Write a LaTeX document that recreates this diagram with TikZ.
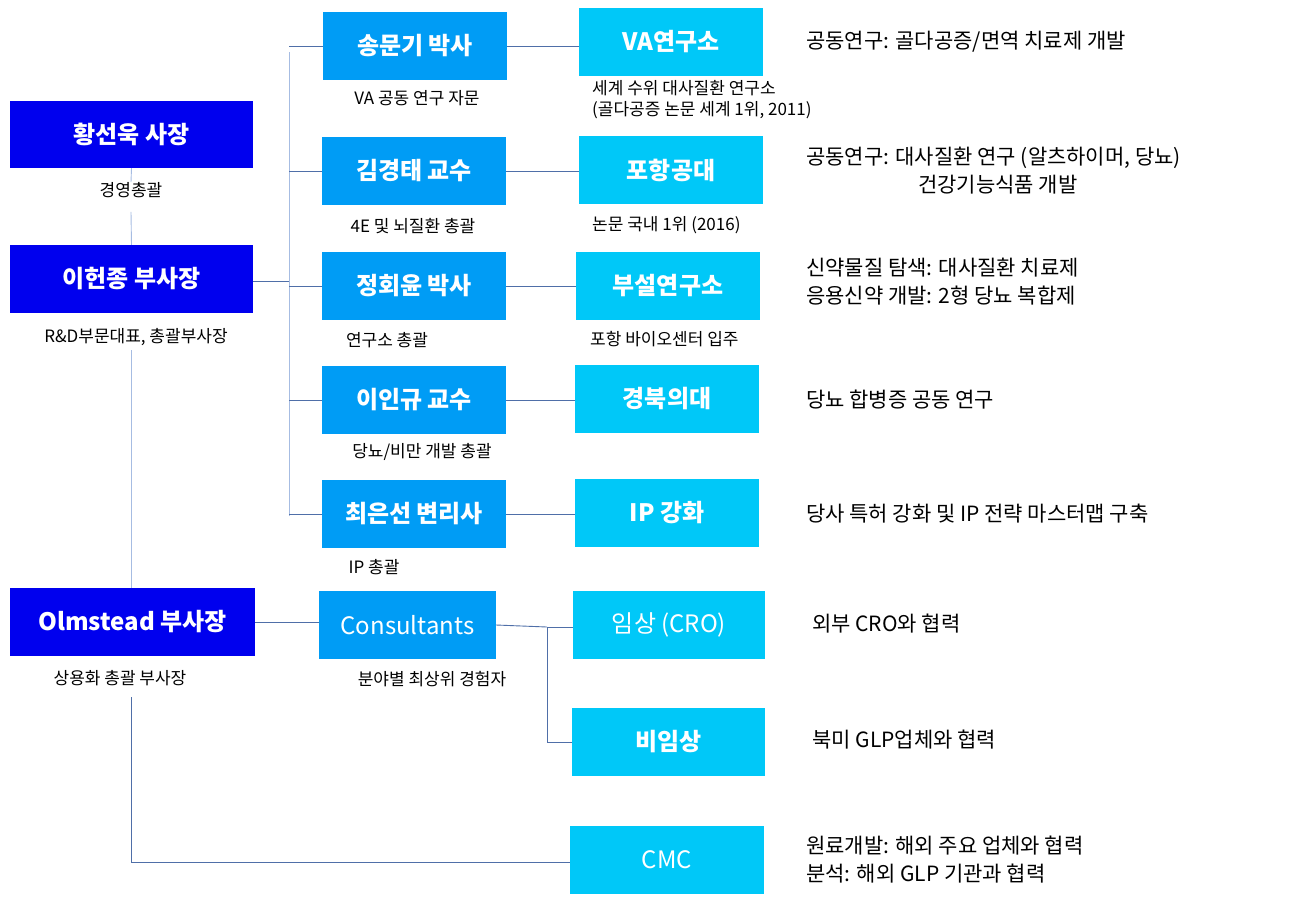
\documentclass[tikz,border=0pt]{standalone}
\usepackage{fontspec}
\setmainfont{Noto Sans CJK KR}
\begin{document}
\begin{tikzpicture}[x=1pt,y=-1pt,
  lead/.style={fill=dblue,text=white,font=\fontsize{24}{28}\selectfont\bfseries,inner sep=0pt},
  mid/.style={fill=mblue,text=white,font=\fontsize{24}{28}\selectfont\bfseries,inner sep=0pt},
  org/.style={fill=lblue,text=white,font=\fontsize{24}{28}\selectfont\bfseries,inner sep=0pt},
  lab/.style={font=\fontsize{17}{21}\selectfont,inner sep=0pt},
  note/.style={font=\fontsize{21}{28}\selectfont,inner sep=0pt,anchor=west,align=left},
  ln/.style={draw=lnc,line width=0.9pt},
  tr/.style={draw=trc,line width=0.9pt}]
\definecolor{dblue}{HTML}{0000EE}
\definecolor{mblue}{HTML}{009CF5}
\definecolor{lblue}{HTML}{00C8F8}
\definecolor{lnc}{HTML}{4F6FA8}
\definecolor{trc}{HTML}{A6BCE2}
\useasboundingbox[fill=white] (0,0) rectangle (1290,903);
\newcommand\bx[6]{\node[#1,minimum width=#4-#3,minimum height=#6-#5] (#2) at ({(#3+#4)/2},{(#5+#6)/2})}
\bx{lead}{a}{10}{253}{101}{168} {황선욱 사장};
\bx{lead}{b}{10}{253}{245}{313} {이헌종 부사장};
\bx{lead}{c}{10}{255}{588}{656} {Olmstead 부사장};
\node[lab] (la) at (131,190) {경영총괄};
\node[lab] (lb) at (136,337) {R\&D부문대표, 총괄부사장};
\node[lab] (lc) at (120,678) {상용화 총괄 부사장};
\bx{mid}{m1}{323}{507}{12}{80} {송문기 박사};
\bx{mid}{m2}{322}{506}{137}{205} {김경태 교수};
\bx{mid}{m3}{322}{506}{252}{320} {정회윤 박사};
\bx{mid}{m4}{322}{506}{366}{434} {이인규 교수};
\bx{mid}{m5}{322}{506}{480}{548} {최은선 변리사};
\bx{mid}{m6}{319}{496}{591}{659} {\mdseries Consultants};
\node[lab] at (417,98) {VA 공동 연구 자문};
\node[lab] at (413,226) {4E 및 뇌질환 총괄};
\node[lab] at (387,340) {연구소 총괄};
\node[lab] at (422,452) {당뇨/비만 개발 총괄};
\node[lab] at (374,567) {IP 총괄};
\node[lab] at (432,679) {분야별 최상위 경험자};
\bx{org}{o1}{579}{763}{8}{76} {VA연구소};
\bx{org}{o2}{579}{763}{136}{204} {포항공대};
\bx{org}{o3}{576}{760}{252}{320} {부설연구소};
\bx{org}{o4}{575}{759}{365}{433} {경북의대};
\bx{org}{o5}{575}{759}{479}{547} {IP 강화};
\bx{org}{o6}{573}{765}{591}{659} {\mdseries 임상 (CRO)};
\bx{org}{o7}{572}{765}{708}{776} {비임상};
\bx{org}{o8}{570}{764}{826}{894} {\mdseries CMC};
\node[lab,anchor=west,align=left] at (592,100) {세계 수위 대사질환 연구소\\(골다공증 논문 세계 1위, 2011)};
\node[lab,anchor=west] at (592,225) {논문 국내 1위 (2016)};
\node[lab,anchor=west] at (590,339) {포항 바이오센터 입주};
\node[note] at (806,42) {공동연구: 골다공증/면역 치료제 개발};
\node[note] at (806,171) {공동연구: 대사질환 연구 (알츠하이머, 당뇨)\\\hspace{112pt}건강기능식품 개발};
\node[note] at (806,282) {신약물질 탐색: 대사질환 치료제\\응용신약 개발: 2형 당뇨 복합제};
\node[note] at (806,400) {당뇨 합병증 공동 연구};
\node[note] at (806,514) {당사 특허 강화 및  IP 전략 마스터맵 구축};
\node[note] at (812,624) {외부 CRO와 협력};
\node[note] at (812,740) {북미 GLP업체와 협력};
\node[note] at (806,860) {원료개발: 해외 주요 업체와 협력\\분석: 해외 GLP 기관과 협력};
\coordinate (t1) at (289,52); \coordinate (t5) at (289,516);
\draw[tr] (t1) -- (t5);
\draw[ln] (b.east|-0,281) -- (289,281);
\foreach \m/\o in {m1/o1,m2/o2,m3/o3,m4/o4,m5/o5}{
  \draw[ln] (289,0|-\m.west) ++(0,0) coordinate (s) ;
  \draw[ln] (s) -- (\m.west);
  \draw[ln] (\m.east) -- (\o.west|-\m.east);}
\draw[tr] (a.south) -- (la.north);
\draw[tr] (la.south) ++(0,14) -- (b.north);
\draw[tr] (131,350) -- (131,588);
\draw[ln] (c.east) -- (m6.west|-c.east);
\draw[ln] (m6.east) -- (547,627) coordinate (k);
\draw[ln] (k) -- (o6.west|-k);
\draw[ln] (k) -- (547,742) -- (o7.west|-0,742);
\draw[ln] (131,697) -- (131,862) -- (o8.west|-0,862);
\end{tikzpicture}
\end{document}
